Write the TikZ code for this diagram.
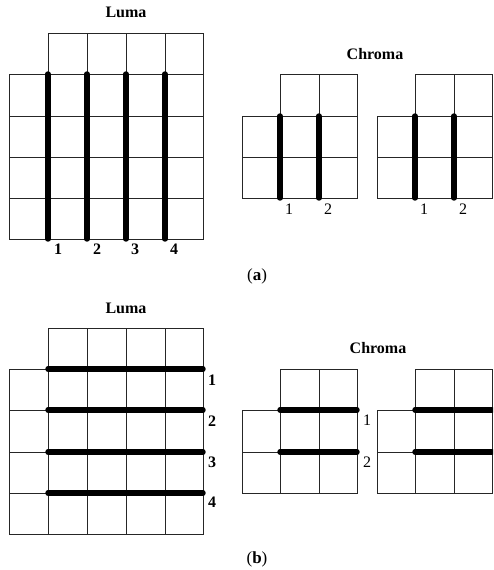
\documentclass[tikz,border=0pt]{standalone}
\usepackage{fontspec}
\setmainfont{Liberation Serif}
\begin{document}
\begin{tikzpicture}[x=1pt,y=-1pt,
  grid/.style={line width=1pt,black!85},
  thick line/.style={line width=5.4pt,line cap=round},
  title/.style={font=\fontsize{16}{16}\selectfont\bfseries,anchor=base},
  bnum/.style={font=\fontsize{16}{16}\selectfont\bfseries,anchor=base},
  rnum/.style={font=\fontsize{16}{16}\selectfont,anchor=base},
  captext/.style={font=\fontsize{17}{17}\selectfont,anchor=base}]
\useasboundingbox (0,0) rectangle (493,570);
\begin{scope}
\clip (0,0) rectangle (493,570);
% ===== (a) Luma =====
\draw[grid] (48,33) rectangle (203,74);
\foreach \x in {87,126,165} \draw[grid] (\x,33) -- (\x,74);
\draw[grid] (9,74) rectangle (203,239);
\foreach \x in {48,87,126,165} \draw[grid] (\x,74) -- (\x,239);
\foreach \y in {116,157,198} \draw[grid] (9,\y) -- (203,\y);
\foreach \x in {48,87,126,165} \draw[thick line] (\x,74) -- (\x,239);
% ===== (a) Chroma =====
\foreach \ox in {0,135} {
  \begin{scope}[xshift=\ox]
  \draw[grid] (280,74) rectangle (357,116);
  \draw[grid] (319,74) -- (319,116);
  \draw[grid] (242,116) rectangle (357,198);
  \draw[grid] (242,157) -- (357,157);
  \foreach \x in {280,319} \draw[grid] (\x,116) -- (\x,198);
  \foreach \x in {280,319} \draw[thick line] (\x,116) -- (\x,198);
  \end{scope}
}
% ===== (b) Luma =====
\draw[grid] (48,328) rectangle (203,534);
\draw[grid] (9,369) rectangle (48,534);
\foreach \x in {87,126,165} \draw[grid] (\x,328) -- (\x,534);
\foreach \y in {369,410,452,493} \draw[grid] (9,\y) -- (203,\y);
\foreach \y in {369,410,452,493} \draw[thick line] (48,\y) -- (203,\y);
% ===== (b) Chroma =====
\foreach \ox in {0,135} {
  \begin{scope}[xshift=\ox]
  \draw[grid] (280,369) rectangle (357,493);
  \draw[grid] (242,410) rectangle (280,493);
  \draw[grid] (319,369) -- (319,493);
  \draw[grid] (242,452) -- (357,452);
  \foreach \y in {410,452} \draw[thick line] (280,\y) -- (357,\y);
  \end{scope}
}
\end{scope}
% ===== labels =====
\node[title] (lumaA) at (126,17) {Luma};
\node[title] (chromaA) at (375,59) {Chroma};
\node[bnum] (a1) at (58,254) {1};
\node[bnum] (a2) at (97,254) {2};
\node[bnum] (a3) at (135,254) {3};
\node[bnum] (a4) at (174,254) {4};
\node[rnum] (ca1) at (289,214) {1};
\node[rnum] (ca2) at (328,214) {2};
\node[rnum] (cb1) at (424,214) {1};
\node[rnum] (cb2) at (463,214) {2};
\node[captext] (capA) at (257,280) {(\textbf{a})};
\node[title] (lumaB) at (126,313) {Luma};
\node[title] (chromaB) at (378,353) {Chroma};
\node[bnum] (b1) at (212,385) {1};
\node[bnum] (b2) at (212,426) {2};
\node[bnum] (b3) at (212,467) {3};
\node[bnum] (b4) at (212,507) {4};
\node[rnum] (cc1) at (367,425) {1};
\node[rnum] (cc2) at (367,467) {2};
\node[captext] (capB) at (257,563) {(\textbf{b})};
\end{tikzpicture}
\end{document}
